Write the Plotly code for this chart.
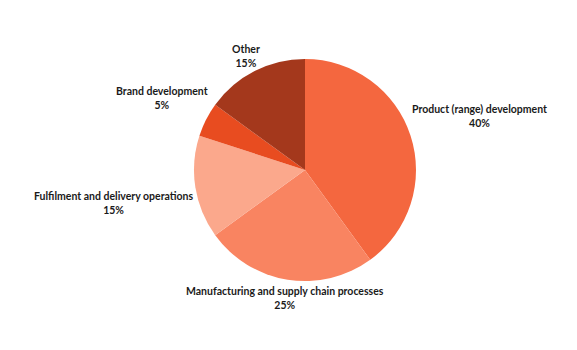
import plotly.graph_objects as go

labels = ["Product (range) development", "Manufacturing and supply chain processes",
          "Fulfilment and delivery operations", "Brand development", "Other"]
values = [40, 25, 15, 5, 15]
colors = ["#F4673F", "#F98461", "#FBA88C", "#E84C20", "#A4381C"]

# label centre positions (pixels in the 577x350 page)
label_px = [(479, 116), (285, 297.5), (113, 202.5), (162, 97.5), (246, 55.5)]

W, H = 577, 350
fig = go.Figure(go.Pie(
    labels=labels, values=values, sort=False, direction="clockwise", rotation=0,
    marker=dict(colors=colors, line=dict(width=0)),
    textinfo="none",
    domain=dict(x=[(305-111)/W, (305+111)/W], y=[1-281/H, 1-59/H]),
    showlegend=False, hoverinfo="skip",
))
total = sum(values)
for lab, v, (px, py) in zip(labels, values, label_px):
    fig.add_annotation(
        x=px/W, y=1-py/H, xref="paper", yref="paper", xanchor="center", yanchor="middle",
        text=f"<b>{lab}</b><br><b>{round(100*v/total)}%</b>", showarrow=False,
        font=dict(family="Lato", size=10.5, color="#1a1a1a"), align="center",
    )
fig.update_layout(width=W, height=H, margin=dict(l=0, r=0, t=0, b=0),
                  paper_bgcolor="white", plot_bgcolor="white")
fig.write_html("out.html")
